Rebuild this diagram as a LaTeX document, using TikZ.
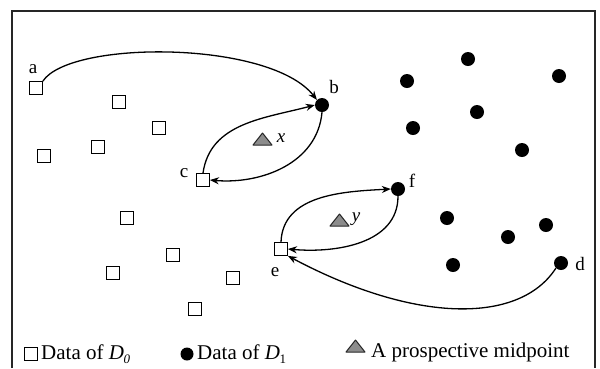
\documentclass[tikz,border=0pt]{standalone}
\usepackage{fontspec}
\setmainfont{Liberation Serif}
\usetikzlibrary{arrows.meta}
\begin{document}
\begin{tikzpicture}[x=1pt,y=-1pt,
  sq/.style={draw=black,line width=1.3pt,fill=white,minimum size=12.5pt,inner sep=0pt},
  dot/.style={circle,fill=black,minimum size=14pt,inner sep=0pt},
  tri/.style={draw=black!85,line width=1pt,fill=black!45,line join=round},
  lbl/.style={font=\fontsize{19}{19}\selectfont,inner sep=0pt},
  leg/.style={font=\fontsize{21}{21}\selectfont,inner sep=0pt,anchor=west},
  arr/.style={line width=1.3pt,-{Stealth[length=9pt,width=7pt]}},
  frame/.style={line width=1.8pt,black!85}]
\useasboundingbox (0,0) rectangle (600,368);
% frame
\coordinate (fbl) at (12,368);
\coordinate (ftl) at (12,11);
\coordinate (ftr) at (595,11);
\coordinate (fbr) at (595,368);
\draw[frame] (fbl) -- (ftl) -- (ftr) -- (fbr);
% D0 squares
\node[sq] (a) at (36,88) {};
\node[sq] (s2) at (119,102) {};
\node[sq] (s3) at (159,128) {};
\node[sq] (s4) at (98,147) {};
\node[sq] (s5) at (44,156) {};
\node[sq] (c) at (203,180) {};
\node[sq] (s7) at (127,218) {};
\node[sq] (s8) at (173,255) {};
\node[sq] (s9) at (113,273) {};
\node[sq] (s10) at (233,278) {};
\node[sq] (s11) at (195,309) {};
\node[sq] (e) at (281,249) {};
% D1 dots
\node[dot] (b) at (322,105) {};
\node[dot] (d2) at (407,81) {};
\node[dot] (d3) at (468,59) {};
\node[dot] (d4) at (559,76) {};
\node[dot] (d5) at (477,112) {};
\node[dot] (d6) at (413,128) {};
\node[dot] (d7) at (522,150) {};
\node[dot] (f) at (398,189) {};
\node[dot] (d9) at (447,218) {};
\node[dot] (d10) at (508,237) {};
\node[dot] (d11) at (546,225) {};
\node[dot] (d12) at (453,265) {};
\node[dot] (d) at (561,263) {};
% midpoints
\draw[tri] (253,145) -- (272,145) -- (262.5,133) -- cycle;
\draw[tri] (330,226) -- (349,226) -- (339.5,214) -- cycle;
\node[lbl] (xl) at (281,138) {\itshape x};
\node[lbl] (yl) at (356,219) {\itshape y};
% point labels
\node[lbl] (la) at (33,69) {a};
\node[lbl] (lb) at (334,87) {b};
\node[lbl] (lc) at (184,173) {c};
\node[lbl] (le) at (275,272) {e};
\node[lbl] (lf) at (412,181) {f};
\node[lbl] (ld) at (580,264) {d};
% connectors
\draw[arr] (a.north east) .. controls (70,40) and (270,40) .. (b.north west);
\draw[arr] (c.north) to[out=82,in=195] (b.west);
\draw[arr] (b.south) to[out=-95,in=-5] (c.east);
\draw[arr] (e.north) to[out=88,in=183] (f.west);
\draw[arr] (f.south) to[out=-90,in=-5] (e.east);
\draw[arr] (d.south west) .. controls (520,324) and (416,324) .. (e.south east);
% legend
\node[sq] (lsq) at (31,354) {};
\node[leg] (lsqt) at (41,354) {Data of \textit{D}\kern-0.5pt\raisebox{-0.35ex}{\fontsize{13}{13}\selectfont\itshape 0}};
\node[dot,minimum size=13pt] (ldot) at (187,354) {};
\node[leg] (ldott) at (197,354) {Data of \textit{D}\kern-0.5pt\raisebox{-0.35ex}{\fontsize{13}{13}\selectfont 1}};
\draw[tri] (346,352) -- (365,352) -- (355.5,340) -- cycle;
\node[leg] (ltrit) at (371,352) {A prospective midpoint};
\end{tikzpicture}
\end{document}
